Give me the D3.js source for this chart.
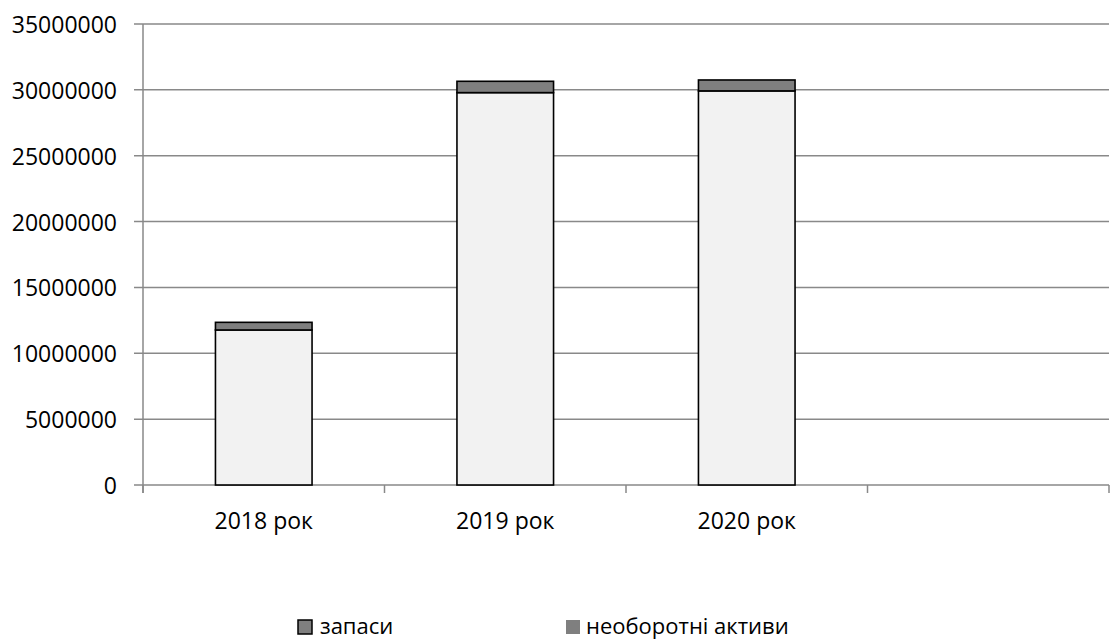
<!DOCTYPE html>
<html>
<head>
<meta charset="utf-8">
<script src="https://cdn.jsdelivr.net/npm/d3@7"></script>
<style>
  html, body { margin: 0; padding: 0; background: #fff; }
  svg { display: block; }
  text { font-family: "Open Sans", sans-serif; fill: #000; }
</style>
</head>
<body>
<svg id="chart" width="1112" height="642"></svg>
<script>
// ---- data ----
const categories = ["2018 рок", "2019 рок", "2020 рок", ""];
const seriesNames = ["запаси", "необоротні активи"];
const zapasy = [11770000, 29790000, 29920000, null];
const neoborotni = [580000, 860000, 830000, null];
const yTicks = [0, 5000000, 10000000, 15000000, 20000000, 25000000, 30000000, 35000000];

// ---- layout ----
(function () {
const svg = d3.select("#chart");
const plotLeft = 143, plotRight = 1109, plotTop = 24, plotBottom = 485;
const fs = 23;

const x = d3.scaleBand().domain(d3.range(categories.length))
  .range([plotLeft, plotRight]).paddingInner(0.6).paddingOuter(0.3);
const y = d3.scaleLinear().domain([0, 35000000]).range([plotBottom, plotTop]);

const gridColor = "#898989";

// gridlines + y ticks
svg.append("g").selectAll("line").data(yTicks).join("line")
  .attr("x1", plotLeft - 9).attr("x2", plotRight)
  .attr("y1", d => y(d)).attr("y2", d => y(d))
  .attr("stroke", gridColor).attr("stroke-width", 1.5);

// y axis line
svg.append("line").attr("x1", plotLeft).attr("x2", plotLeft)
  .attr("y1", y(35000000)).attr("y2", plotBottom + 8)
  .attr("stroke", gridColor).attr("stroke-width", 1.5);

// x tick marks at band boundaries
const step = x.step();
const bounds = d3.range(categories.length + 1).map(i => plotLeft + i * step);
svg.append("g").selectAll("line").data(bounds).join("line")
  .attr("x1", d => d).attr("x2", d => d)
  .attr("y1", plotBottom).attr("y2", plotBottom + 8)
  .attr("stroke", gridColor).attr("stroke-width", 1.5);

// y labels
svg.append("g").selectAll("text").data(yTicks).join("text")
  .attr("x", 117).attr("y", d => y(d))
  .attr("text-anchor", "end").attr("dominant-baseline", "central")
  .attr("font-size", fs)
  .text(d => d3.format("d")(d));

// bars
const stackData = categories.map((c, i) => ({ i, a: zapasy[i], b: neoborotni[i] }))
  .filter(d => d.a != null);

svg.append("g").selectAll("rect").data(stackData).join("rect")
  .attr("x", d => x(d.i)).attr("width", x.bandwidth())
  .attr("y", d => y(d.a)).attr("height", d => y(0) - y(d.a))
  .attr("fill", "#f2f2f2").attr("stroke", "#000").attr("stroke-width", 1.6);

svg.append("g").selectAll("rect").data(stackData).join("rect")
  .attr("x", d => x(d.i)).attr("width", x.bandwidth())
  .attr("y", d => y(d.a + d.b)).attr("height", d => y(d.a) - y(d.a + d.b))
  .attr("fill", "#7f7f7f").attr("stroke", "#000").attr("stroke-width", 1.6);

// x labels
svg.append("g").selectAll("text").data(categories).join("text")
  .attr("x", (d, i) => x(i) + x.bandwidth() / 2).attr("y", 529)
  .attr("text-anchor", "middle").attr("font-size", fs)
  .text(d => d);

// legend
const legendItems = [
  { name: seriesNames[0], sx: 298, tx: 320, stroke: "#000" },
  { name: seriesNames[1], sx: 566, tx: 586, stroke: "none" }
];
const lg = svg.append("g");
legendItems.forEach(it => {
  lg.append("rect").attr("x", it.sx).attr("y", 620).attr("width", 14).attr("height", 14)
    .attr("fill", "#7f7f7f").attr("stroke", it.stroke).attr("stroke-width", 1.5);
  lg.append("text").attr("x", it.tx).attr("y", 634).attr("font-size", 22).text(it.name);
});
})();
</script>
</body>
</html>
